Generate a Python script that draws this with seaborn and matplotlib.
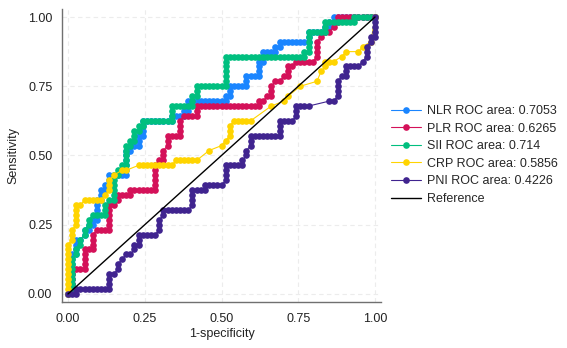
import numpy as np
import pandas as pd
import matplotlib
matplotlib.use("Agg")
import matplotlib.pyplot as plt
import seaborn as sns

# ---- data: ROC step paths, run-length encoded as (false-pos step, true-pos step, repeats) ----
N_NEG = 74
N_POS = 56

NLR = [(1,1,1),(0,1,7),(1,0,1),(0,1,3),(1,0,1),(1,1,1),(0,1,1),(1,0,1),(0,1,1),(1,0,1),(0,1,1),
       (1,0,1),(0,1,4),(1,0,1),(0,1,2),(1,0,1),(0,1,1),(1,0,1),(0,1,2),(1,0,3),(1,0,1),(0,1,5),
       (1,0,1),(0,1,1),(1,0,2),(0,1,2),(1,0,1),(0,1,3),(1,0,6),(1,0,1),(0,1,1),(1,0,3),(0,1,1),
       (1,0,1),(0,1,2),(1,0,9),(0,1,1),(1,0,1),(0,1,2),(1,0,3),(1,0,1),(0,1,2),(1,0,2),(1,0,1),
       (0,1,3),(1,0,1),(0,1,2),(1,0,3),(0,1,1),(1,0,1),(0,1,1),(1,0,7),(0,1,2),(1,0,4),(0,1,1),
       (1,0,1),(0,1,1),(1,0,1),(0,1,1),(1,0,10)]

PLR = [(1,1,1),(0,1,4),(1,0,3),(0,1,4),(1,0,2),(0,1,3),(1,1,1),(1,0,3),(0,1,5),(1,0,1),(0,1,1),
       (1,0,1),(0,1,1),(1,0,3),(0,1,1),(1,0,3),(1,0,3),(0,1,5),(1,1,1),(1,0,1),(0,1,2),(1,1,1),
       (0,1,2),(1,0,3),(0,1,3),(1,1,1),(1,0,2),(1,0,1),(0,1,2),(1,0,15),(0,1,1),(1,0,1),(1,1,1),
       (1,0,1),(0,1,2),(1,1,1),(1,0,1),(1,1,1),(1,0,1),(0,1,2),(1,0,1),(1,1,1),(1,0,4),(1,1,1),
       (0,1,3),(1,1,1),(1,1,1),(1,0,1),(1,1,1),(1,1,1),(0,1,1),(1,0,9)]

SII = [(1,1,1),(0,1,6),(1,1,1),(0,1,1),(1,1,1),(0,1,1),(1,1,1),(0,1,1),(1,1,1),(0,1,1),(1,1,1),
       (1,0,3),(0,1,2),(1,1,1),(1,0,1),(0,1,5),(1,0,1),(0,1,1),(1,0,1),(0,1,1),(1,0,1),(0,1,4),
       (1,0,1),(0,1,1),(1,0,1),(0,1,2),(1,0,1),(0,1,1),(1,0,1),(0,1,1),(1,0,6),(1,0,1),(0,1,3),
       (1,0,4),(1,0,1),(0,1,2),(1,0,1),(0,1,2),(1,0,6),(1,0,1),(0,1,6),(1,0,19),(0,1,1),(1,0,1),
       (0,1,4),(1,0,3),(1,0,1),(0,1,2),(1,0,6),(1,0,1),(0,1,1),(1,0,5)]

CRP = [(0,1,10),(1,1,1),(0,1,2),(1,1,1),(0,1,4),(1,0,1),(1,1,1),(1,0,4),(1,1,1),(1,1,1),(0,1,2),
       (1,1,1),(2,1,1),(1,0,1),(3,1,1),(1,0,7),(1,0,1),(1,1,1),(1,0,5),(3,2,1),(3,1,1),(1,1,2),
       (0,1,2),(1,1,1),(1,0,4),(5,3,1),(3,1,1),(1,1,1),(3,2,1),(4,1,1),(1,2,1),(1,1,1),(0,1,1),
       (1,0,2),(2,1,1),(1,1,1),(3,0,1),(1,1,1),(2,1,1),(1,5,1)]

PNI = [(1,0,2),(0,1,1),(1,0,8),(0,1,3),(1,0,1),(1,1,1),(0,1,1),(1,1,2),(1,0,1),(1,1,1),(0,1,1),
       (1,0,1),(0,1,2),(1,0,4),(1,1,1),(0,1,2),(1,1,1),(0,1,1),(1,0,6),(1,1,1),(0,1,3),(1,0,3),
       (0,1,1),(1,0,4),(1,1,1),(0,1,3),(1,0,4),(0,1,1),(1,1,1),(0,1,1),(1,1,1),(0,1,2),(1,0,7),
       (0,1,3),(1,0,3),(1,1,1),(0,1,2),(1,0,3),(5,1,1),(1,0,1),(1,1,1),(0,1,3),(1,1,1),(1,0,1),
       (0,1,2),(1,0,3),(1,1,1),(1,1,1),(0,1,2),(1,1,1),(0,1,1),(1,0,1),(0,1,4)]

REF_X = [0, 1]
REF_Y = [0, 1]

SERIES = ["NLR", "PLR", "SII", "CRP", "PNI"]
LABELS = ["NLR ROC area: 0.7053", "PLR ROC area: 0.6265", "SII ROC area: 0.714",
          "CRP ROC area: 0.5856", "PNI ROC area: 0.4226"]
REF_LABEL = "Reference"
COLORS = ["#1A85FF", "#D41159", "#00BF7F", "#FFD400", "#40248F"]
TICKS = [0, 0.25, 0.5, 0.75, 1.0]
TICK_LABELS = ["0.00", "0.25", "0.50", "0.75", "1.00"]
XLABEL = "1-specificity"
YLABEL = "Sensitivity"


def expand(steps):
    fp, tp = [0], [0]
    for dx, dy, n in steps:
        for _ in range(n):
            fp.append(fp[-1] + dx)
            tp.append(tp[-1] + dy)
    return np.array(fp) / N_NEG, np.array(tp) / N_POS


frames = []
for name, steps in zip(SERIES, [NLR, PLR, SII, CRP, PNI]):
    x, y = expand(steps)
    frames.append(pd.DataFrame({"series": name, "fpr": x, "tpr": y}))
df = pd.concat(frames, ignore_index=True)

sns.set_theme(style="white")
plt.rcParams["font.family"] = ["Liberation Sans", "DejaVu Sans"]

fig = plt.figure(figsize=(5.67, 3.48), dpi=100)
ax = fig.add_axes([62 / 567, 46 / 348, 319 / 567, 293.3 / 348])

for name, lab, col in zip(SERIES, LABELS, COLORS):
    sub = df[df["series"] == name]
    sns.lineplot(data=sub, x="fpr", y="tpr", sort=False, estimator=None, ax=ax,
                 color=col, linewidth=0.8, marker="o", markersize=4.8,
                 markeredgewidth=0, markerfacecolor=col, label=lab)

sns.lineplot(x=REF_X, y=REF_Y, ax=ax, color="black", linewidth=1.0,
             sort=False, estimator=None, label=REF_LABEL)

ax.set_xlim(-0.0195, 1.0195)
ax.set_ylim(-0.029, 1.03)
ax.set_xticks(TICKS)
ax.set_xticklabels(TICK_LABELS)
ax.set_yticks(TICKS)
ax.set_yticklabels(TICK_LABELS)
ax.grid(True, color="#ececec", linestyle=(0, (4, 3)), linewidth=0.8)
ax.set_axisbelow(True)
for s in ["top", "right"]:
    ax.spines[s].set_visible(False)
for s in ["left", "bottom"]:
    ax.spines[s].set_color("#707070")
    ax.spines[s].set_linewidth(1.0)
ax.tick_params(axis="both", direction="out", length=4, width=1, color="#707070",
               labelsize=9, labelcolor="#222222")
ax.tick_params(axis="x", pad=4)
ax.tick_params(axis="y", pad=3)
ax.set_xlabel(XLABEL, fontsize=9, color="#222222")
ax.set_ylabel(YLABEL, fontsize=9, color="#222222")
ax.xaxis.set_label_coords(0.5, -0.087)
ax.yaxis.set_label_coords(-0.135, 0.5)

handles, labels = ax.get_legend_handles_labels()
if ax.get_legend() is not None:
    ax.get_legend().remove()
fig.legend(handles, labels, loc="center left", bbox_to_anchor=(391 / 567, (348 - 155) / 348),
           frameon=False, fontsize=9, handlelength=2.4, handletextpad=0.45,
           labelspacing=0.45, borderaxespad=0, borderpad=0)

fig.savefig("out.png", dpi=100)
